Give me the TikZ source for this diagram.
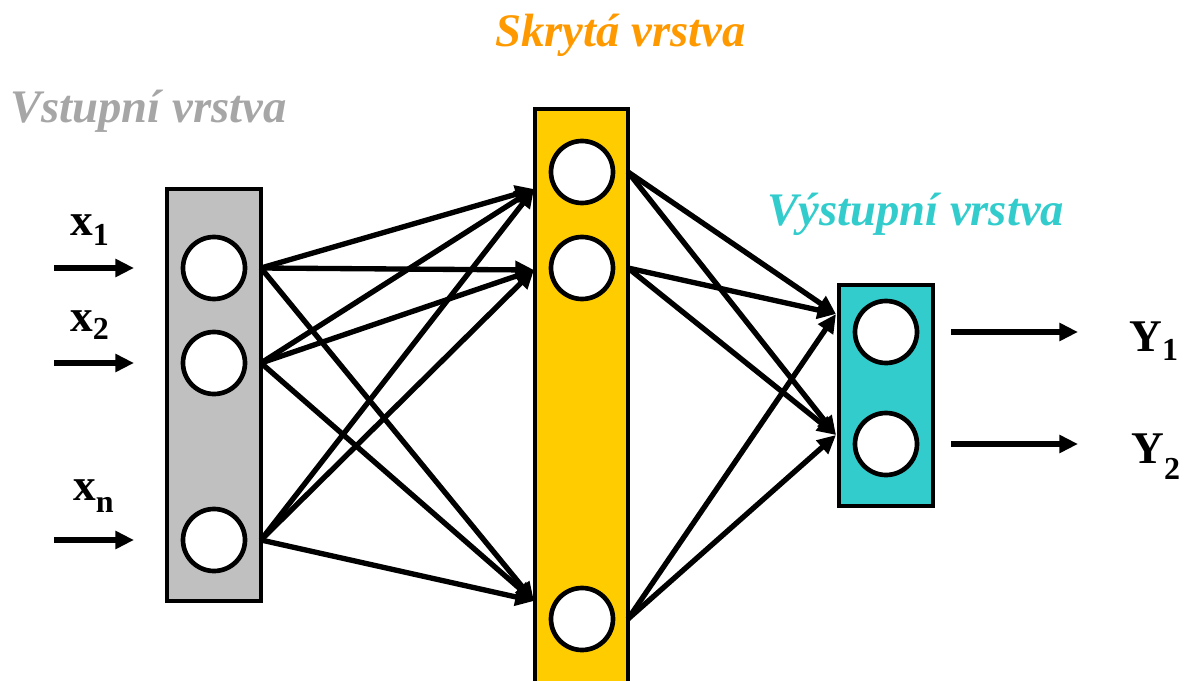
\documentclass[tikz,border=0pt]{standalone}
\usepackage{fontspec}
\setmainfont{Liberation Serif}
\newfontface\titleface{Liberation Serif Bold Italic}
\usetikzlibrary{arrows.meta}
\definecolor{ingray}{HTML}{C0C0C0}
\definecolor{hidyel}{HTML}{FFCC00}
\definecolor{outteal}{HTML}{33CCCC}
\definecolor{titlegray}{HTML}{A6A6A6}
\definecolor{titleorange}{HTML}{FF9900}
\newcommand{\neurlab}[3]{\fontsize{34pt}{38pt}\selectfont\bfseries #1\raisebox{-#3}{\fontsize{24pt}{26pt}\selectfont #2}}
\newcommand{\titlefont}{\titleface\fontsize{35pt}{40pt}\selectfont}
\begin{document}
\begin{tikzpicture}[x=0.75pt,y=-0.75pt,
  layerbox/.style={draw=black,line width=3.5pt,inner sep=0pt,outer sep=0pt},
  neuron/.style={circle,draw=black,fill=white,line width=3.5pt,minimum size=46.5pt,inner sep=0pt,outer sep=0pt},
  link/.style={line width=4pt,-{Triangle[length=14pt,width=13pt]}},
  iolink/.style={line width=4pt,-{Triangle[length=14pt,width=13pt]}},
  title/.style={anchor=base west,inner sep=0pt,font=\titlefont},
  lab/.style={anchor=base west,inner sep=0pt}]
\useasboundingbox (0,0) rectangle (1192,681);
\clip (0,0) rectangle (1192,681);
% boxes
\node[layerbox,fill=ingray,minimum width=70.5pt,minimum height=309pt] (ibox) at (214,395) {};
\node[layerbox,fill=hidyel,minimum width=69.75pt,minimum height=458.25pt] (hbox) at (581.5,414.5) {};
\node[layerbox,fill=outteal,minimum width=70.5pt,minimum height=165.75pt] (obox) at (886,395.5) {};
% neurons
\node[neuron] (i1) at (214,268) {};
\node[neuron] (i2) at (214,363) {};
\node[neuron] (i3) at (214,540) {};
\node[neuron] (h1) at (582,172) {};
\node[neuron] (h2) at (582,268) {};
\node[neuron] (h3) at (582,619) {};
\node[neuron] (o1) at (886,332) {};
\node[neuron] (o2) at (886,444) {};
% arrow targets
\coordinate (ha1) at (534,189);
\coordinate (ha2) at (534,270);
\coordinate (ha3) at (534,601);
\coordinate (oa1) at (836,314);
\coordinate (oa2) at (836,435);
% input -> hidden
\foreach \i in {i1,i2,i3}{
  \foreach \h in {ha1,ha2,ha3}{
    \draw[link] (\i -| ibox.east) -- (\h);
  }
}
% hidden -> output
\foreach \h in {h1,h2,h3}{
  \foreach \o in {oa1,oa2}{
    \draw[link] (\h -| hbox.east) -- (\o);
  }
}
% input arrows
\coordinate (s1) at (54,268);  \coordinate (e1) at (134,268);
\coordinate (s2) at (54,363);  \coordinate (e2) at (134,363);
\coordinate (s3) at (54,540);  \coordinate (e3) at (134,540);
\draw[iolink] (s1) -- (e1);
\draw[iolink] (s2) -- (e2);
\draw[iolink] (s3) -- (e3);
% output arrows
\coordinate (y1s) at (951,332);
\coordinate (y2s) at (951,444);
\coordinate (y1e) at (1078,332);
\coordinate (y2e) at (1078,444);
\draw[iolink] (y1s) -- (y1e);
\draw[iolink] (y2s) -- (y2e);
% labels
\node[lab] (lx1) at (70,235) {\neurlab{x}{1}{8pt}};
\node[lab] (lx2) at (70,331) {\neurlab{x}{2}{6pt}};
\node[lab] (lxn) at (73,500) {\neurlab{x}{n}{9pt}};
\node[lab] (ly1) at (1129,351) {\neurlab{Y}{1}{7pt}};
\node[lab] (ly2) at (1131,463) {\neurlab{Y}{2}{12pt}};
% titles
\node[title,text=titleorange] (th) at (495,47) {Skrytá vrstva};
\node[title,text=titlegray] (ti) at (10,123) {Vstupní vrstva};
\node[title,text=outteal] (to) at (767,225) {Výstupní vrstva};
\end{tikzpicture}
\end{document}
